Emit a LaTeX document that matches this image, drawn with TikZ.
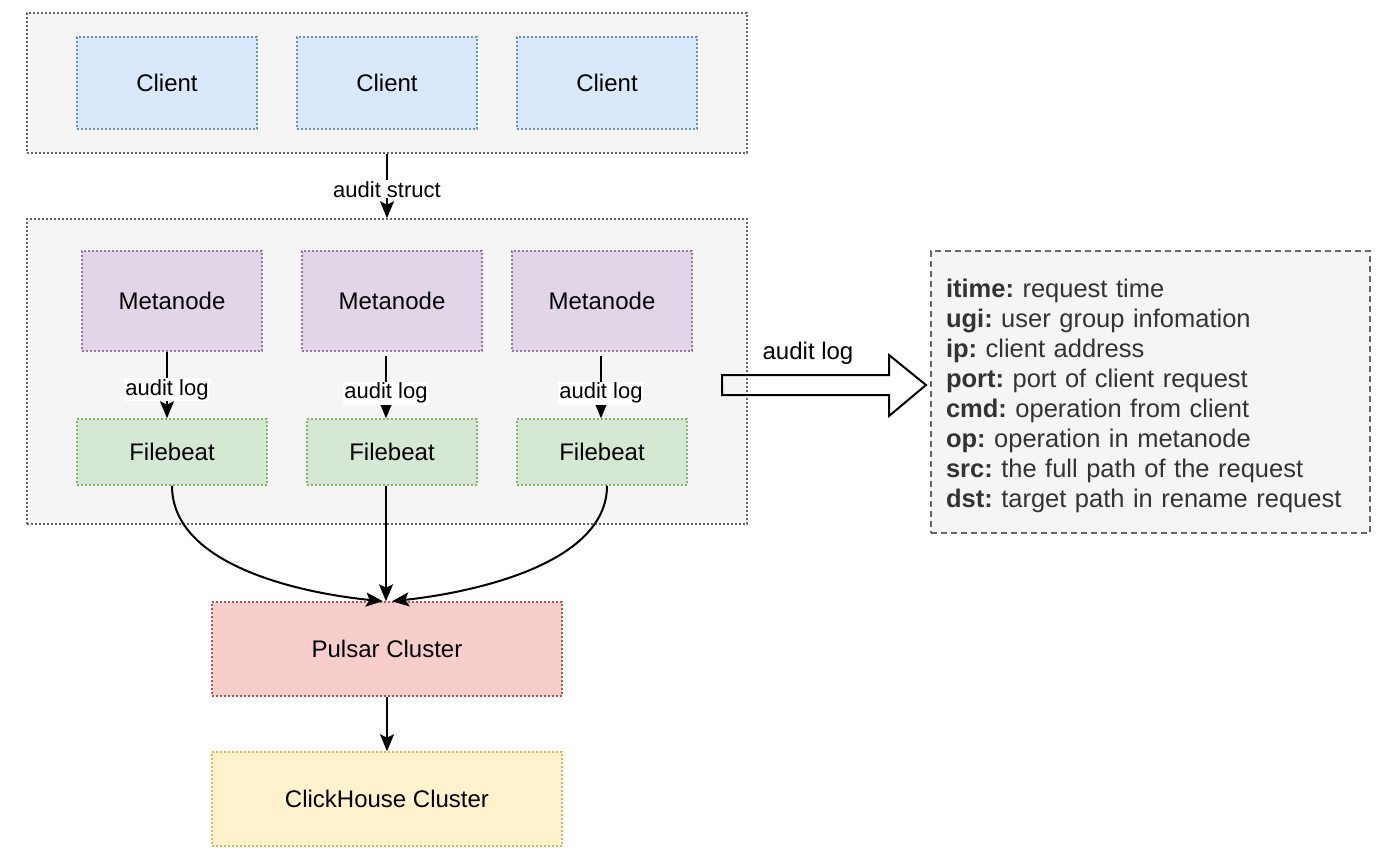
\documentclass[tikz,border=0pt]{standalone}
\usepackage{fontspec}
\setmainfont{Liberation Sans}
\usetikzlibrary{arrows.meta,calc}
\definecolor{contfill}{HTML}{F5F5F5}
\definecolor{contdraw}{HTML}{666666}
\definecolor{cliFill}{HTML}{DAE8FC}
\definecolor{cliDraw}{HTML}{6C8EBF}
\definecolor{metaFill}{HTML}{E1D5E7}
\definecolor{metaDraw}{HTML}{9673A6}
\definecolor{fbFill}{HTML}{D5E8D4}
\definecolor{fbDraw}{HTML}{82B366}
\definecolor{pulFill}{HTML}{F8CECC}
\definecolor{pulDraw}{HTML}{B85450}
\definecolor{chFill}{HTML}{FFF2CC}
\definecolor{chDraw}{HTML}{D6B656}
\definecolor{infoText}{HTML}{333333}
\tikzset{
  box/.style={rectangle, line width=1.5pt, dash pattern=on 2pt off 2pt, inner sep=0pt, font=\fontsize{24}{28}\selectfont},
  container/.style={box, fill=contfill, draw=contdraw},
  clientbox/.style={box, fill=cliFill, draw=cliDraw, minimum width=180pt, minimum height=92pt},
  metabox/.style={box, fill=metaFill, draw=metaDraw, minimum width=180pt, minimum height=100pt},
  fbbox/.style={box, fill=fbFill, draw=fbDraw, minimum height=66pt},
  clusterbox/.style={box, minimum width=350pt, minimum height=94pt},
  conn/.style={line width=2pt, -{Stealth[length=17pt,width=14pt,inset=3.5pt]}},
  elabel/.style={fill=white, inner sep=1pt, font=\fontsize{22}{26}\selectfont},
}
\begin{document}
\begin{tikzpicture}[x=1pt,y=-1pt]
\useasboundingbox (0,0) rectangle (1394,860);
% containers
\node[container, minimum width=720pt, minimum height=140pt] (top) at (387,83) {};
\node[container, minimum width=720pt, minimum height=305pt] (mid) at (387,371.5) {};
% clients
\node[clientbox] (c1) at (167,83) {Client};
\node[clientbox] (c2) at (387,83) {Client};
\node[clientbox] (c3) at (607,83) {Client};
% metanodes
\node[metabox] (m1) at (172,301) {Metanode};
\node[metabox] (m2) at (392,301) {Metanode};
\node[metabox] (m3) at (602,301) {Metanode};
% filebeats
\node[fbbox, minimum width=190pt] (f1) at (172,452) {Filebeat};
\node[fbbox, minimum width=170pt] (f2) at (392,452) {Filebeat};
\node[fbbox, minimum width=170pt] (f3) at (602,452) {Filebeat};
% clusters
\node[clusterbox, fill=pulFill, draw=pulDraw] (pul) at (387,649) {Pulsar Cluster};
\node[clusterbox, fill=chFill, draw=chDraw] (ch) at (387,799) {ClickHouse Cluster};
% info box
\node[rectangle, fill=contfill, draw=contdraw, line width=1.5pt, dash pattern=on 6pt off 4pt,
      minimum width=439pt, minimum height=282pt] (info) at (1150.5,392) {};
\node[text width=409pt, align=left, inner sep=0pt,
      text=infoText, font=\fontsize{25.5}{30}\selectfont\frenchspacing] (infotext) at ([yshift=-4pt]info.center) {%
\textbf{itime:} request time\\
\textbf{ugi:} user group infomation\\
\textbf{ip:} client address\\
\textbf{port:} port of client request\\
\textbf{cmd:} operation from client\\
\textbf{op:} operation in metanode\\
\textbf{src:} the full path of the request\\
\textbf{dst:} target path in rename request};
% connectors
\draw[conn] (top.south) -- node[elabel, pos=0.55]{audit struct} (mid.north);
\draw[conn] ([xshift=-5pt]m1.south) -- node[elabel, pos=0.57]{audit log} ([xshift=-5pt]f1.north);
\draw[conn] ([xshift=-6pt,yshift=-4pt]m2.south) -- node[elabel, pos=0.6]{audit log} ([xshift=-6pt]f2.north);
\draw[conn] ([xshift=-1pt,yshift=-4pt]m3.south) -- node[elabel, pos=0.6]{audit log} ([xshift=-1pt]f3.north);
\draw[conn] (f1.south) .. controls ([yshift=-80pt]f1.south) and ([xshift=-85pt,yshift=8pt]pul.north) .. ([xshift=-4pt]pul.north);
\draw[conn] ([xshift=-6pt]f2.south) -- ([xshift=-1pt]pul.north);
\draw[conn] ([xshift=5pt]f3.south) .. controls ([xshift=5pt,yshift=-80pt]f3.south) and ([xshift=80pt,yshift=8pt]pul.north) .. ([xshift=5pt]pul.north);
\draw[conn] (pul.south) -- (ch.north);
% big arrow
\coordinate (a1) at (722,375);
\coordinate (a2) at (889,375);
\coordinate (a3) at (889,355);
\coordinate (a4) at (926,385);
\coordinate (a5) at (889,416);
\coordinate (a6) at (889,395);
\coordinate (a7) at (722,395);
\draw[line width=2pt, line join=miter] (a1) -- (a2) -- (a3) -- (a4) -- (a5) -- (a6) -- (a7) -- cycle;
\node[font=\fontsize{24}{28}\selectfont] (al) at (808,353) {audit log};
\end{tikzpicture}
\end{document}
